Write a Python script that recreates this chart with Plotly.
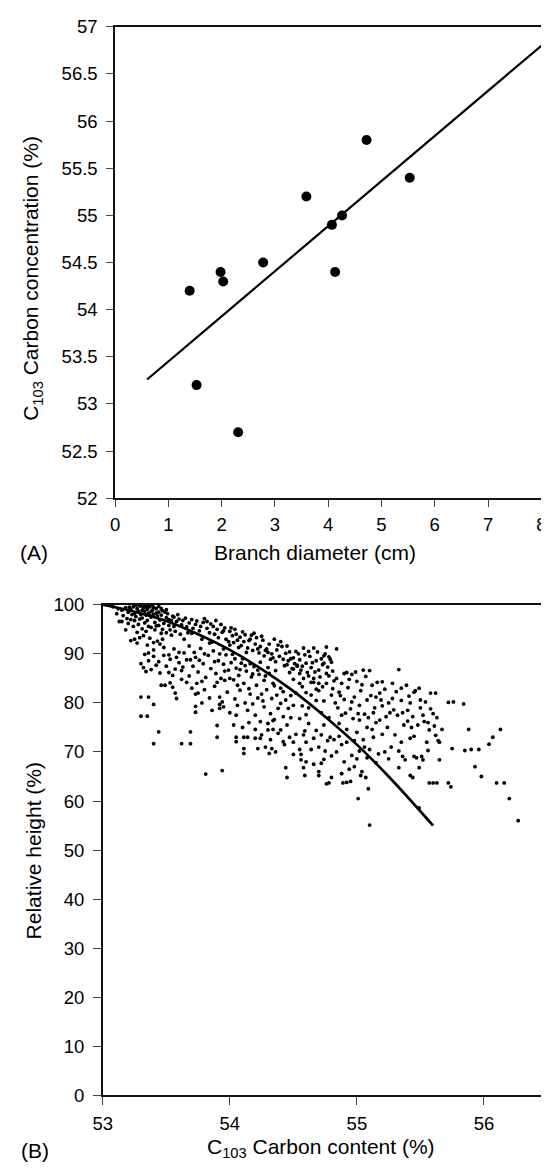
import plotly.graph_objects as go

# ---------------- Panel A data ----------------
branch_diameter = [1.40, 1.53, 1.98, 2.03, 2.31, 2.78, 3.59, 4.07, 4.13, 4.26, 4.72, 5.53]
carbon_conc = [54.2, 53.2, 54.4, 54.3, 52.7, 54.5, 55.2, 54.9, 54.4, 55.0, 55.8, 55.4]
fit_a_x = [0.6, 8.0]
fit_a_y = [53.26, 56.80]

# ---------------- Panel B data ----------------
curve_b_x = [53.0, 53.25, 53.5, 53.75, 54.0, 54.25, 54.5, 54.75, 55.0, 55.25, 55.6]
curve_b_y = [100.0, 98.6, 96.7, 94.0, 90.8, 86.9, 82.4, 77.2, 71.5, 65.0, 55.0]

top_cluster = [
    (53.08,99.6),(53.12,99.2),(53.15,98.9),(53.18,99.4),(53.2,98.5),(53.22,99.0),(53.24,99.6),(53.25,98.2),
    (53.26,97.6),(53.27,99.2),(53.28,98.7),(53.29,99.8),(53.3,98.0),(53.31,97.3),(53.32,99.4),(53.33,98.6),
    (53.34,97.9),(53.35,99.1),(53.35,96.8),(53.36,98.3),(53.37,99.6),(53.38,97.5),(53.39,98.9),(53.4,98.1),
    (53.41,96.4),(53.42,99.2),(53.43,97.7),(53.44,98.5),(53.45,96.9),(53.46,97.9),(53.47,98.8),(53.48,96.2),
    (53.5,97.4),(53.51,98.2),(53.52,95.8),(53.54,96.8),(53.55,97.7),(53.2,96.2),(53.15,96.6),(53.24,95.6),
    (53.28,96.0),(53.31,95.1),(53.34,94.6),(53.38,95.4),(53.41,94.9),(53.44,95.8),(53.47,95.0),(53.5,94.3),
    (53.53,94.9),(53.56,95.6),(53.3,99.8),(53.33,100.0),(53.36,99.8),(53.4,99.5),(53.26,99.9),(53.22,97.0),
    (53.27,94.4),(53.32,93.7),(53.37,93.2),(53.43,92.6),(53.47,93.0),(53.4,92.3),(53.45,92.0),(53.35,91.8),
    (53.18,94.9),(53.13,96.6),(53.22,92.7),(53.27,92.2),
    (53.21,99.5),(53.23,98.0),(53.25,96.8),(53.29,97.1),(53.31,98.9),(53.33,96.3),(53.36,95.6),(53.38,98.6),
    (53.39,100.0),(53.42,95.7),(53.44,99.7),(53.46,94.2),(53.49,98.5),(53.52,97.0),(53.54,93.8),(53.57,94.6),
    (53.59,98.0),(53.61,94.0),(53.64,93.0),(53.67,94.3),(53.29,93.3),(53.25,93.0),(53.16,97.8),(53.11,98.2),
    (53.19,97.2),(53.42,98.3),(53.37,97.8),(53.34,99.5),(53.46,99.2),(53.5,99.0),
]

line_band = [
    (53.56,97.5),(53.58,96.6),(53.6,97.1),(53.62,95.9),(53.63,96.8),(53.65,97.3),(53.66,95.5),(53.68,96.3),
    (53.7,97.0),(53.71,95.2),(53.73,96.0),(53.74,96.7),(53.76,94.7),(53.77,95.6),(53.79,96.4),(53.8,97.2),
    (53.82,95.2),(53.84,94.3),(53.85,96.1),(53.87,95.6),(53.88,94.0),(53.9,95.0),(53.91,93.3),(53.93,96.0),
    (53.94,94.4),(53.96,95.3),(53.97,93.0),(53.99,92.5),(54.0,94.6),(54.02,93.7),(54.03,92.3),(54.05,94.0),
    (54.06,92.8),(54.08,93.4),(54.09,91.7),(54.11,92.5),(54.12,93.9),(54.14,91.2),(54.15,92.7),(54.17,93.8),
    (54.18,90.7),(54.2,92.0),(54.21,93.3),(54.23,90.2),(54.24,91.5),(54.26,92.8),(54.27,89.6),(54.29,91.0),
    (54.3,90.3),(54.32,88.9),(54.33,90.0),(54.35,93.0),(54.36,88.4),(54.38,91.8),(54.39,89.5),(54.41,91.5),
    (54.43,87.6),(54.44,90.1),(54.46,88.6),(54.47,90.4),(54.49,87.0),(54.5,89.2),(54.52,90.5),(54.53,87.7),
    (54.55,88.8),(54.56,86.7),(54.58,91.2),(54.6,88.1),(54.61,86.2),(54.63,89.5),(54.64,87.2),(54.66,91.2),
    (54.68,88.6),(54.7,86.7),(54.72,89.0),(54.74,88.1),(54.75,90.0),(54.76,91.4),(54.77,87.3),(54.78,89.4),
    (54.8,88.3),(54.84,91.0),(54.62,85.5),(54.66,85.0),(54.7,84.0),(54.73,83.3),
    (53.7,94.2),(53.78,93.0),(53.86,92.4),(53.95,91.0),(54.02,89.9),(54.1,89.0),(54.16,88.0),(54.22,86.7),
    (54.28,85.5),(54.34,84.0),(54.4,83.0),
    (53.82,96.6),(53.89,96.8),(53.95,94.7),(54.01,95.3),(54.04,95.0),(54.07,91.3),(54.1,94.5),(54.13,90.3),
    (54.16,93.0),(54.19,94.2),(54.22,91.0),(54.25,93.6),(54.28,90.7),(54.31,92.0),(54.34,89.2),(54.37,90.8),
    (54.4,92.5),(54.42,88.9),(54.45,91.6),(54.48,89.0),(54.51,88.0),(54.54,90.0),(54.57,87.5),(54.59,89.8),
    (54.62,90.5),(54.65,88.2),(54.67,86.3),(54.69,90.4),(54.71,85.3),(54.73,87.8),(54.76,86.0),(54.79,88.9),
    (54.81,86.5),(54.74,89.6),(54.64,84.2),(54.58,85.0),(54.55,84.0),(54.68,82.8),
]

mid_region = [
    (53.33,89.9),(53.3,88.0),(53.32,87.2),(53.34,86.4),(53.36,88.6),(53.38,86.8),(53.4,89.5),(53.42,87.7),
    (53.44,88.4),(53.45,86.1),(53.48,89.7),(53.5,87.5),(53.52,86.2),(53.53,88.9),(53.55,85.6),(53.57,86.9),
    (53.58,89.3),(53.6,88.2),(53.62,86.6),(53.64,90.2),(53.66,88.8),(53.69,88.8),(53.71,87.5),(53.73,89.3),
    (53.75,86.3),(53.77,91.1),(53.79,88.0),(53.81,85.2),(53.83,89.7),(53.85,87.0),(53.87,90.6),(53.89,86.0),
    (53.91,88.6),(53.93,85.0),(53.95,87.9),(53.97,89.8),(53.99,86.7),(54.01,88.2),(54.03,84.7),(54.05,87.1),
    (54.07,85.6),(54.09,88.1),(54.11,84.0),(54.13,86.5),(54.15,82.9),(54.17,85.3),(54.19,87.4),(54.21,83.6),
    (54.23,85.8),(54.25,81.8),(54.27,84.6),(54.29,82.7),(54.31,86.0),(54.33,80.9),(54.35,83.5),(54.37,81.6),
    (54.4,79.9),(54.42,82.3),(54.44,80.6),(54.46,78.9),(54.48,81.5),
    (53.46,83.6),(53.49,83.6),(53.53,84.1),(53.55,83.2),(53.57,82.0),(53.58,80.9),(53.62,84.8),(53.66,84.2),
    (53.7,83.0),(53.73,81.8),(53.75,82.0),(53.78,84.4),(53.8,82.7),(53.84,81.0),(53.88,83.4),(53.92,81.2),
    (53.94,80.2),(53.96,84.6),(53.98,82.2),(54.0,85.0),(54.04,80.8),(54.06,79.5),(54.08,82.6),(54.12,80.0),
    (54.14,78.5),(54.18,79.8),(54.2,77.5),(54.22,81.0),(54.24,76.2),(54.27,79.2),(54.3,75.8),(54.32,77.8),
    (54.35,76.6),(54.38,78.9),(54.4,74.5),(54.42,77.2),(54.45,75.5),(54.48,77.0),(54.5,79.5),(54.52,73.6),
    (54.55,76.8),(54.57,79.4),(54.59,74.3),(54.6,77.6),
    (53.56,91.0),(53.6,90.3),(53.63,87.3),(53.68,91.6),(53.72,90.3),(53.76,88.7),(53.8,90.0),(53.84,92.2),
    (53.88,88.4),(53.92,90.0),(53.96,86.5),(54.0,91.8),(54.04,89.0),(54.08,86.8),(54.12,87.6),(54.18,85.9),
    (54.24,88.3),(54.3,87.2),(54.36,86.6),(53.68,85.5),(53.74,84.0),(53.9,84.2),(54.06,83.6),(54.16,81.8),
    (54.26,80.4),(53.48,91.3),(53.52,89.8),(53.4,90.8),(53.36,90.2),
]

right_cloud = [
    (54.82,84.5),(54.84,85.0),(54.86,82.2),(54.88,84.0),(54.9,80.7),(54.92,86.2),(54.93,83.1),(54.95,78.8),
    (54.96,85.8),(54.98,81.2),(55.0,84.4),(55.02,79.5),(55.03,82.5),(55.05,86.7),(55.06,77.7),(55.08,80.6),
    (55.1,86.6),(55.12,83.6),(55.13,78.0),(55.15,81.2),(55.16,84.2),(55.18,76.5),(55.2,79.4),(55.22,82.8),
    (55.24,75.0),(55.26,78.0),(55.28,80.9),(55.3,73.5),(55.32,77.5),(55.33,86.8),(55.35,80.5),(55.37,75.5),
    (55.39,83.6),(55.4,78.5),(55.42,72.8),(55.44,77.2),(55.46,82.5),(55.48,75.5),(55.5,79.0),(55.52,77.5),
    (55.54,80.2),(55.56,76.0),(55.58,82.0),(55.6,77.8),(55.62,82.0),(55.63,77.0),(55.65,72.0),(55.45,73.2),
    (55.35,72.0),(55.27,71.0),(55.2,73.6),(55.13,73.0),(55.1,70.5),(55.17,69.6),(55.25,68.6),(55.33,70.2),
    (55.05,72.5),(55.0,74.0),(55.02,76.5),(54.97,76.8),(54.92,74.6),(54.88,77.5),(54.85,79.0),(54.83,80.0),
    (54.86,75.8),(54.98,72.3),(55.08,75.0),(55.15,76.0),(55.22,70.0),(55.38,68.4),(55.47,68.8),(55.55,72.0),
    (54.5,84.8),(54.52,82.0),(54.55,86.0),(54.57,83.3),(54.6,82.1),(54.62,79.0),(54.64,81.6),(54.66,84.2),
    (54.68,80.5),(54.7,82.5),(54.72,78.0),(54.74,80.4),(54.76,84.0),(54.78,77.0),(54.8,81.6),(54.5,86.9),
    (54.53,87.5),(54.47,86.2),(54.45,87.8),
    (54.5,72.0),(54.55,70.5),(54.58,73.5),(54.6,72.0),(54.62,75.8),(54.64,70.5),(54.66,72.8),(54.68,74.4),
    (54.7,71.0),(54.72,73.5),(54.74,75.5),(54.75,70.2),(54.77,72.3),(54.79,73.0),(54.8,69.2),(54.82,72.5),
    (54.84,70.0),(54.86,73.2),(54.88,71.5),(54.9,68.0),(54.92,72.0),(54.94,66.5),(54.96,69.3),(54.98,67.0),
    (55.0,68.6),(55.02,70.2),(55.04,66.0),(55.06,71.0),(55.08,68.8),(54.6,68.0),(54.66,67.5),(54.7,66.0),
    (54.74,68.5),(54.76,63.5),(54.88,65.6),(54.95,64.0),
    (54.2,72.8),(54.25,73.5),(54.28,71.0),(54.32,72.5),(54.36,70.0),(54.38,73.8),(54.43,71.5),(54.47,73.0),
    (54.15,76.0),(54.1,75.0),(54.05,77.5),(54.0,78.0),(53.95,79.2),(53.86,78.5),(53.78,80.0),(54.3,74.5),
    (54.34,76.4),
    (55.35,83.0),(55.42,80.0),(55.45,82.2),(55.5,80.6),(55.53,76.2),(55.57,74.5),(55.4,76.3),(55.28,84.0),
    (55.2,84.3),(55.25,80.0),(55.18,82.0),
    (54.9,86.0),(54.94,84.8),(54.99,86.3),(55.04,83.7),(55.07,85.4),(55.11,81.5),(55.14,79.0),(55.19,80.6),
    (55.23,77.2),(55.29,78.6),(55.31,82.3),(55.36,78.0),(55.41,81.4),(55.43,75.0),(55.49,83.0),(55.58,78.8),
    (55.61,75.3),(54.87,81.5),(54.91,77.9),(54.96,80.2),(55.01,77.8),(55.09,77.0),(55.12,74.6),(54.81,82.9),
    (54.78,85.5),
]

outliers = [
    (53.30,81.2),(53.36,81.2),(53.30,77.3),(53.35,77.3),(53.40,79.7),(53.40,71.7),(53.44,74.1),(53.62,71.7),
    (53.69,71.7),(53.69,74.1),(53.73,79.3),(53.73,78.1),(53.81,65.5),(53.94,66.2),(53.90,73.0),(53.90,75.4),
    (53.92,79.7),(53.92,78.9),(54.03,75.5),(54.05,73.0),(54.05,72.1),(54.11,73.0),(54.14,73.0),(54.11,70.7),
    (54.11,69.7),(54.20,74.6),(54.22,70.7),(54.24,72.8),(54.31,69.7),(54.33,70.7),(54.34,74.6),(54.42,72.1),
    (54.44,66.8),(54.45,64.8),(54.50,69.5),(54.56,69.5),(54.56,68.4),(54.58,66.8),(54.59,65.2),(54.70,65.2),
    (54.72,67.7),(54.78,63.7),(54.80,64.8),(54.88,65.6),(54.89,63.7),(54.92,63.8),(55.01,60.5),(55.03,65.2),
    (55.07,64.8),(55.09,62.5),(55.10,55.1),(55.15,67.8),(55.33,66.8),(55.36,69.1),(55.42,65.2),(55.44,64.8),
    (55.45,69.1),(55.49,58.6),(55.49,66.8),(55.51,69.1),(55.52,68.4),(55.56,70.3),(55.57,63.7),(55.60,63.7),
    (55.63,63.7),(55.62,73.4),(55.64,72.3),(55.65,68.4),(55.67,74.6),(55.72,63.7),(55.74,62.9),(55.75,70.7),
    (55.72,80.1),(55.76,80.2),(55.84,79.8),(55.85,70.3),(55.88,74.6),(55.90,70.5),(55.93,67.0),(55.96,70.5),
    (55.98,65.0),(56.04,71.6),(56.07,73.0),(56.10,63.7),(56.16,63.7),(56.13,74.6),(56.20,60.5),(56.27,56.0),
]

points_b = top_cluster + line_band + mid_region + right_cloud + outliers
b_carbon = [p[0] for p in points_b]
b_height = [p[1] for p in points_b]

# ---------------- Layout helpers ----------------
# The page puts the figure 8 px in from the top-left corner of the window,
# so screen positions are converted to figure positions by removing that offset.
W, H = 549, 1172
OFFSET = 8

def px(x):
    return (x - OFFSET) / W

def py(y):
    return 1 - (y - OFFSET) / H

FONT = "Liberation Sans, Arial, Helvetica, sans-serif"
TICK_SIZE = 18.5
TITLE_SIZE = 21

fig = go.Figure()

fig.add_trace(go.Scatter(x=fit_a_x, y=fit_a_y, mode="lines",
                         line=dict(color="black", width=2.2),
                         xaxis="x", yaxis="y", showlegend=False, hoverinfo="skip"))
fig.add_trace(go.Scatter(x=branch_diameter, y=carbon_conc, mode="markers",
                         marker=dict(color="black", size=10),
                         xaxis="x", yaxis="y", showlegend=False))

fig.add_trace(go.Scatter(x=b_carbon, y=b_height, mode="markers",
                         marker=dict(color="black", size=3.8),
                         xaxis="x2", yaxis="y2", showlegend=False))
fig.add_trace(go.Scatter(x=curve_b_x, y=curve_b_y, mode="lines",
                         line=dict(color="black", width=2.6, shape="spline"),
                         xaxis="x2", yaxis="y2", showlegend=False, hoverinfo="skip"))

axis_common = dict(showgrid=False, zeroline=False, showline=True, linecolor="#111",
                   linewidth=1.5, ticks="outside", tickcolor="#444", tickwidth=1.3,
                   ticklabeloverflow="allow",
                   tickfont=dict(family=FONT, size=TICK_SIZE, color="black"))

x2_right = 53 + (549 - 95.2) / 130.6

fig.update_layout(
    width=W, height=H,
    margin=dict(l=0, r=0, t=0, b=0),
    paper_bgcolor="white", plot_bgcolor="white",
    xaxis=dict(domain=[px(107.8), px(546)], range=[0, 8], dtick=1, tick0=0,
               anchor="y", mirror=True, ticklen=7, ticklabelstandoff=2, **axis_common),
    yaxis=dict(domain=[py(496), py(16)], range=[52, 57], dtick=0.5, tick0=52,
               anchor="x", mirror=True, ticklen=7, ticklabelstandoff=5, **axis_common),
    xaxis2=dict(domain=[px(95.2), px(549)], range=[53, x2_right], dtick=1, tick0=53,
                anchor="y2", mirror=True, ticklen=8, ticklabelstandoff=3, **axis_common),
    yaxis2=dict(domain=[py(1104), py(604.5)], range=[0, 100], dtick=10, tick0=0,
                anchor="x2", mirror=False, ticklen=8, ticklabelstandoff=5, **axis_common),
)

def label(text, x, y, size=TITLE_SIZE, angle=0):
    fig.add_annotation(text=text, x=px(x), y=py(y), xref="paper", yref="paper",
                       showarrow=False, textangle=angle, xanchor="center", yanchor="middle",
                       font=dict(family=FONT, size=size, color="black"))

label("(A)", 24, 551)
label("Branch diameter (cm)", 313, 551)
label("C<sub>103</sub> Carbon concentration (%)", 23, 272, angle=-90)
label("(B)", 25, 1160)
label("C<sub>103</sub> Carbon content (%)", 320, 1158)
label("Relative height (%)", 24, 855, angle=-90)

fig.write_html("out.html")
